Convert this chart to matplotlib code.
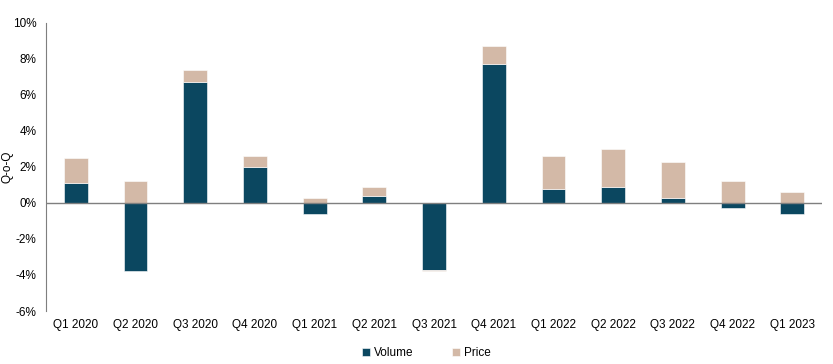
import matplotlib.pyplot as plt
import numpy as np
from matplotlib.ticker import FuncFormatter

plt.rcParams['font.family'] = ['Liberation Sans', 'DejaVu Sans']

quarters = ['Q1 2020', 'Q2 2020', 'Q3 2020', 'Q4 2020', 'Q1 2021', 'Q2 2021', 'Q3 2021',
            'Q4 2021', 'Q1 2022', 'Q2 2022', 'Q3 2022', 'Q4 2022', 'Q1 2023']
volume = [1.1, -3.8, 6.7, 2.0, -0.6, 0.4, -3.7, 7.7, 0.8, 0.9, 0.3, -0.3, -0.6]
price = [1.4, 1.2, 0.7, 0.6, 0.3, 0.5, -0.1, 1.0, 1.8, 2.1, 2.0, 1.2, 0.6]

vol_color = '#0b4760'
price_color = '#d3b9a7'

fig = plt.figure(figsize=(8.33, 3.64), dpi=100)
ax = fig.add_axes([0.0552, 0.1456, 0.9318, 0.7914])

x = np.arange(len(quarters))
vol = np.array(volume)
pr = np.array(price)
# price sits on top of volume when both share a sign, otherwise starts at zero
pr_bottom = np.where(pr >= 0, np.maximum(vol, 0), np.minimum(vol, 0))

ax.bar(x, vol, width=0.4, color=vol_color, edgecolor='white', linewidth=0.4, label='Volume')
ax.bar(x, pr, width=0.4, bottom=pr_bottom, color=price_color, edgecolor='white', linewidth=0.4, label='Price')

ax.set_xlim(-0.5, len(quarters) - 0.5)
ax.set_ylim(-6, 10)
ax.set_yticks(np.arange(-6, 11, 2))
ax.yaxis.set_major_formatter(FuncFormatter(lambda v, p: '%d%%' % v))
ax.set_xticks(x)
ax.set_xticklabels(quarters)
ax.axhline(0, color='#7f7f7f', linewidth=1)

for s in ['top', 'right', 'bottom']:
    ax.spines[s].set_visible(False)
ax.spines['left'].set_color('#7f7f7f')
ax.tick_params(axis='both', length=0, labelsize=8.5, colors='#000000')
ax.tick_params(axis='y', pad=7)
ax.tick_params(axis='x', pad=6)
ax.set_ylabel('Q-o-Q', fontsize=8.5)
ax.yaxis.set_label_coords(-0.0415, 0.5)

ax.legend(loc='lower center', bbox_to_anchor=(0.49, -0.205), ncol=2, frameon=False,
          fontsize=8.5, handlelength=0.7, handleheight=0.7, columnspacing=3.3, handletextpad=0.3)

plt.savefig('out.png', dpi=100)
